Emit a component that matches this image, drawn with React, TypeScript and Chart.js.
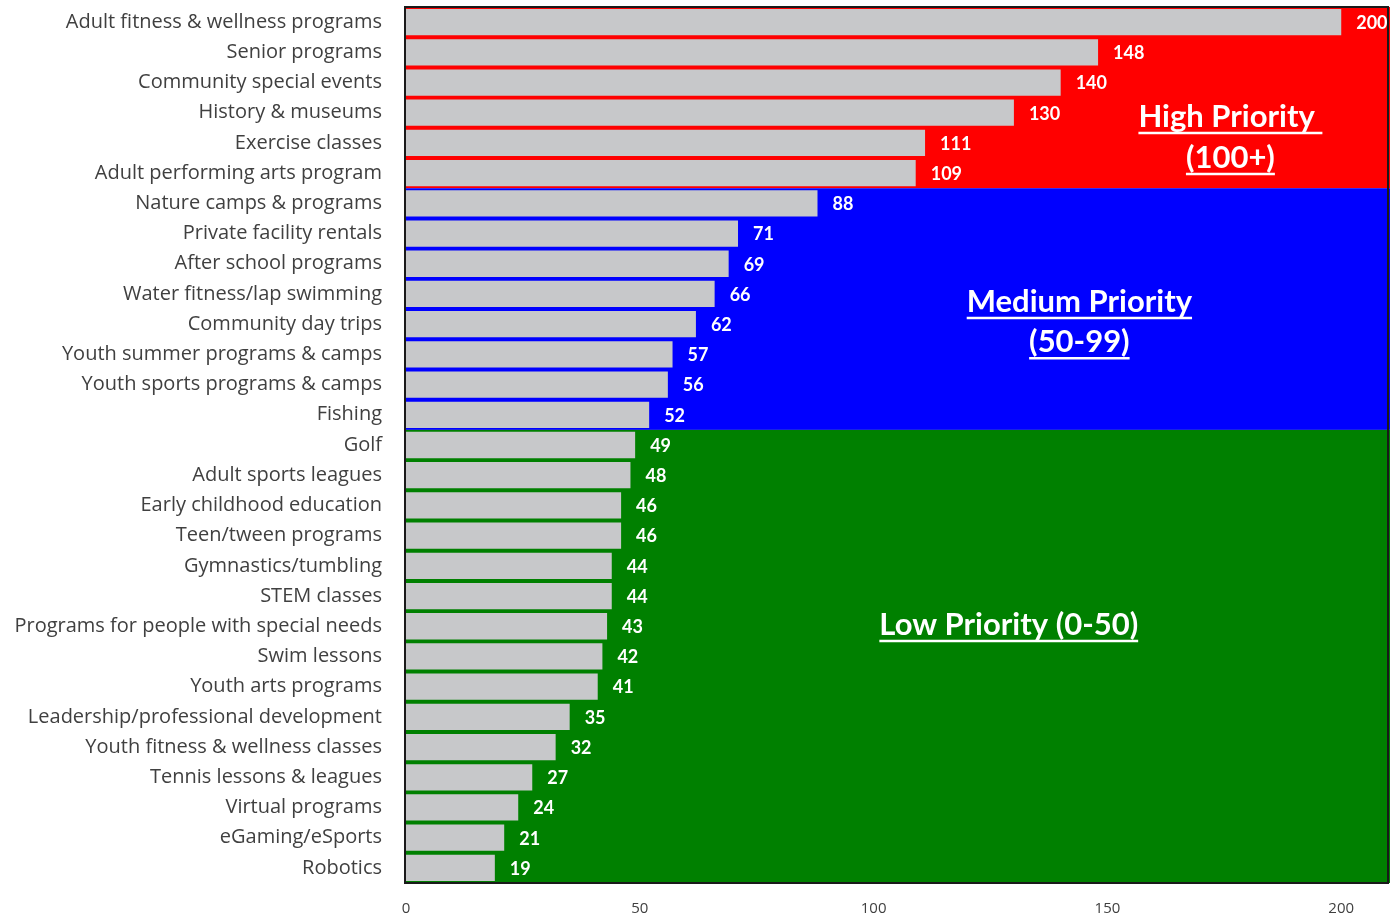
import { useEffect, useRef } from "react";
import { Chart, registerables } from "chart.js";

Chart.register(...registerables);

const LABEL_FONT = "'Open Sans', Lato, sans-serif";
const FONT = "Lato, 'Open Sans', sans-serif";

const categories = [
  "Adult fitness & wellness programs",
  "Senior programs",
  "Community special events",
  "History & museums",
  "Exercise classes",
  "Adult performing arts program",
  "Nature camps & programs",
  "Private facility rentals",
  "After school programs",
  "Water fitness/lap swimming",
  "Community day trips",
  "Youth summer programs & camps",
  "Youth sports programs & camps",
  "Fishing",
  "Golf",
  "Adult sports leagues",
  "Early childhood education",
  "Teen/tween programs",
  "Gymnastics/tumbling",
  "STEM classes",
  "Programs for people with special needs",
  "Swim lessons",
  "Youth arts programs",
  "Leadership/professional development",
  "Youth fitness & wellness classes",
  "Tennis lessons & leagues",
  "Virtual programs",
  "eGaming/eSports",
  "Robotics",
];

const values = [
  200, 148, 140, 130, 111, 109, 88, 71, 69, 66, 62, 57, 56, 52, 49, 48, 46, 46,
  44, 44, 43, 42, 41, 35, 32, 27, 24, 21, 19,
];

const xTickValues = [0, 50, 100, 150, 200];

// priority bands (category index ranges)
const bandStart = [0, 6, 14];
const bandEnd = [5, 13, 28];
const bandColors = ["#ff0000", "#0000ff", "#008000"];

// band annotations
const noteLines = [
  ["High Priority ", "(100+)"],
  ["Medium Priority", "(50-99)"],
  ["Low Priority (0-50)"],
];
const noteX = [176.3, 144.0, 128.9];
const noteY = [[3.14, 4.5], [9.27, 10.6], [19.96]];

const bandsPlugin = {
  id: "bands",
  beforeDatasetsDraw(chart: any) {
    const { ctx, chartArea, scales } = chart;
    const y = scales.y;
    const half = (y.getPixelForValue(1) - y.getPixelForValue(0)) / 2;
    ctx.save();
    for (let i = 0; i < bandStart.length; i++) {
      const top = y.getPixelForValue(bandStart[i]) - half;
      const bottom = y.getPixelForValue(bandEnd[i]) + half;
      ctx.fillStyle = bandColors[i];
      ctx.fillRect(chartArea.left, top, chartArea.right - chartArea.left + 2, bottom - top);
    }
    ctx.restore();
  },
  afterDatasetsDraw(chart: any) {
    const { ctx, chartArea, scales } = chart;
    const x = scales.x;
    const y = scales.y;
    ctx.save();
    // value labels
    const meta = chart.getDatasetMeta(0);
    ctx.fillStyle = "#ffffff";
    ctx.font = `bold 18px ${FONT}`;
    ctx.textAlign = "left";
    ctx.textBaseline = "middle";
    meta.data.forEach((el: any, i: number) => {
      ctx.fillText(String(values[i]), el.x + 15, el.y + 1);
    });
    // annotations
    ctx.font = `bold 31px ${FONT}`;
    ctx.textAlign = "center";
    ctx.strokeStyle = "#ffffff";
    ctx.lineWidth = 2.5;
    noteLines.forEach((lines, bi) => {
      const cx = x.getPixelForValue(noteX[bi]);
      lines.forEach((txt, li) => {
        const cy = y.getPixelForValue(noteY[bi][li]);
        ctx.fillText(txt, cx, cy);
        const w = ctx.measureText(txt).width;
        ctx.beginPath();
        ctx.moveTo(cx - w / 2, cy + 16);
        ctx.lineTo(cx + w / 2, cy + 16);
        ctx.stroke();
      });
    });
    // frame
    ctx.strokeStyle = "#1a1a1a";
    ctx.lineWidth = 2;
    ctx.strokeRect(chartArea.left - 1, chartArea.top, chartArea.right - chartArea.left + 1, chartArea.bottom - chartArea.top);
    ctx.restore();
  },
};

export default function App() {
  const ref = useRef<HTMLCanvasElement | null>(null);
  useEffect(() => {
    if (!ref.current) return;
    const chart = new Chart(ref.current, {
      type: "bar",
      data: {
        labels: categories,
        datasets: [
          {
            data: values,
            backgroundColor: "#c7c8ca",
            borderWidth: 0,
            barPercentage: 0.87,
            categoryPercentage: 1,
          },
        ],
      },
      options: {
        indexAxis: "y",
        animation: false,
        responsive: false,
        devicePixelRatio: 1,
        layout: { autoPadding: false, padding: { top: 7, right: 6, left: 0, bottom: 0 } },
        plugins: { legend: { display: false }, tooltip: { enabled: false } },
        scales: {
          x: {
            min: 0,
            max: 210,
            grid: { display: false, drawTicks: false },
            border: { display: false },
            ticks: {
              stepSize: 50,
              color: "#404040",
              font: { family: LABEL_FONT, size: 15 },
              padding: 17,
              maxRotation: 0,
            },
            afterBuildTicks: (s: any) => {
              s.ticks = xTickValues.map((v) => ({ value: v }));
            },
            afterFit: (s: any) => {
              s.height = 36;
              s.paddingLeft = 0;
              s.paddingRight = 0;
            },
          },
          y: {
            grid: { display: false, drawTicks: false },
            border: { display: false },
            ticks: {
              color: "#404040",
              font: { family: LABEL_FONT, size: 20 },
              padding: 24,
              autoSkip: false,
            },
            afterFit: (s: any) => {
              s.width = 406;
              s.paddingTop = 0;
              s.paddingBottom = 0;
            },
          },
        },
      },
      plugins: [bandsPlugin],
    });
    return () => chart.destroy();
  }, []);
  return (
    <div style={{ position: "absolute", left: 0, top: 0, width: 1394, height: 919, background: "#ffffff" }}>
      <canvas ref={ref} width={1394} height={919} />
    </div>
  );
}
